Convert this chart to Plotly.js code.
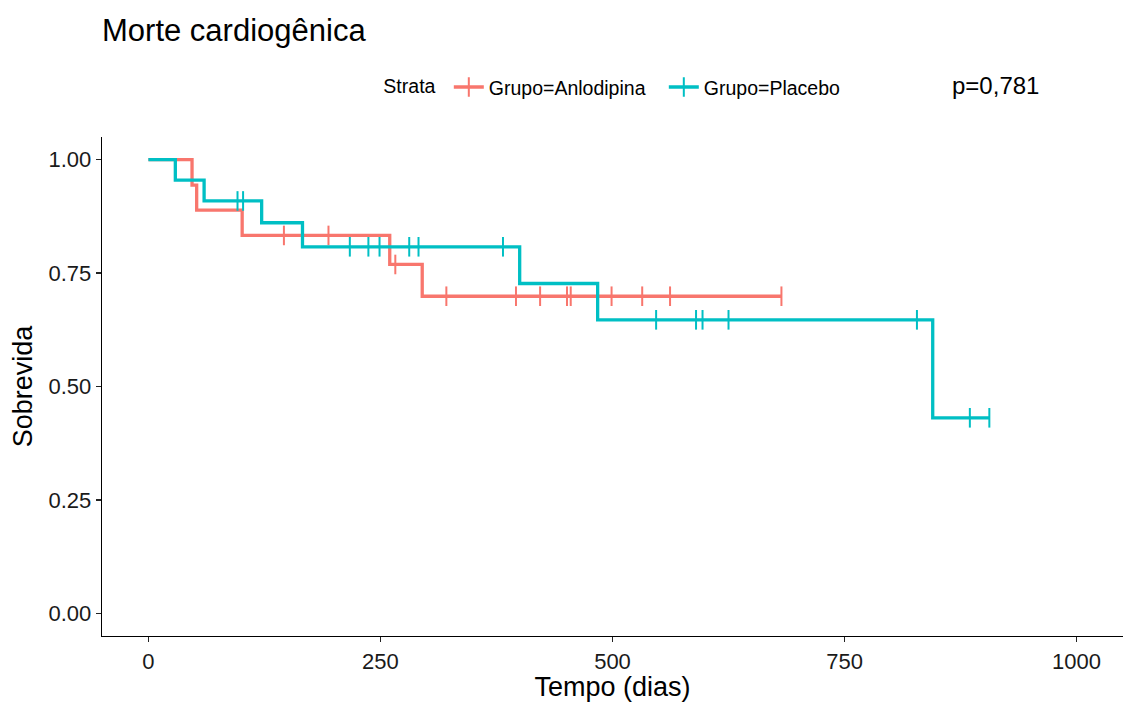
<!DOCTYPE html>
<html>
<head>
<meta charset="utf-8">
<script src="https://cdn.plot.ly/plotly-3.0.1.min.js"></script>
<style>
html,body{margin:0;padding:0;background:#fff;}
#chart{width:1123px;height:702px;}
</style>
</head>
<body>
<div id="chart"></div>
<script>
// Kaplan-Meier step data (time in days, survival probability)
var anlTime   = [0, 47, 52, 101, 260, 295, 682];
var anlSurv   = [1.000, 0.944, 0.889, 0.833, 0.769, 0.699, 0.699];
var anlCensor = [146, 194, 266, 321, 396, 422, 451, 455, 499, 532, 562, 682];

var plaTime   = [0, 29, 60, 122, 166, 400, 484, 845, 906];
var plaSurv   = [1.000, 0.955, 0.909, 0.861, 0.808, 0.727, 0.647, 0.431, 0.431];
var plaCensor = [96, 102, 217, 237, 249, 281, 291, 382, 547, 590, 597, 625, 828, 885, 906];

var groupNames = ["Grupo=Anlodipina", "Grupo=Placebo"];
var colors = ["#F8766D", "#00BFC4"];
var xTicks = [0, 250, 500, 750, 1000];
var yTicks = [0, 0.25, 0.5, 0.75, 1];
var pLabel = "p=0,781";

function survAt(times, surv, t){
  var s = surv[0];
  for (var i = 0; i < times.length; i++){ if (times[i] <= t) s = surv[i]; }
  return s;
}

var FONT = "Liberation Sans, Arial, sans-serif";
var groups = [
  {t: anlTime, s: anlSurv, c: anlCensor},
  {t: plaTime, s: plaSurv, c: plaCensor}
];
var traces = [];
groups.forEach(function(g, k){
  traces.push({
    x: g.t, y: g.s, type: 'scatter', mode: 'lines',
    line: {color: colors[k], width: 3.3, shape: 'hv'},
    showlegend: false, hoverinfo: 'skip'
  });
  traces.push({
    x: g.c, y: g.c.map(function(t){ return survAt(g.t, g.s, t); }),
    type: 'scatter', mode: 'markers',
    marker: {symbol: 'line-ns-open', size: 14, color: colors[k], line: {color: colors[k], width: 2}},
    showlegend: false, hoverinfo: 'skip'
  });
});
// legend entries
groups.forEach(function(g, k){
  traces.push({
    x: [null], y: [null], type: 'scatter', mode: 'lines+markers', name: groupNames[k],
    line: {color: colors[k], width: 3.3},
    marker: {symbol: 'line-ns-open', size: 14, color: colors[k], line: {color: colors[k], width: 2}}
  });
});

var L = 101.5, PW = 1123 - L;
function px2paper(x){ return (x - L) / PW; }

var layout = {
  width: 1123, height: 702,
  paper_bgcolor: '#fff', plot_bgcolor: '#fff',
  margin: {l: L, r: 0, t: 137, b: 66, pad: 0},
  font: {family: FONT, color: '#000'},
  title: {text: 'Morte cardiogênica', x: 102/1123, xanchor: 'left', xref: 'container',
          y: 1 - 30/702, yanchor: 'middle', yref: 'container',
          font: {family: FONT, size: 31, color: '#000'}},
  xaxis: {
    range: [-50, 1050], tickvals: xTicks, ticktext: xTicks.map(String),
    showgrid: false, zeroline: false, showline: true, linecolor: '#000', linewidth: 1.3,
    ticks: 'outside', ticklen: 5, tickwidth: 1.3, tickcolor: '#222',
    tickfont: {family: FONT, size: 22, color: '#1a1a1a'},
    title: {text: 'Tempo (dias)', font: {family: FONT, size: 27, color: '#000'}, standoff: 5}
  },
  yaxis: {
    range: [-0.05, 1.05], tickvals: yTicks, tickformat: '.2f',
    showgrid: false, zeroline: false, showline: true, linecolor: '#000', linewidth: 1.3,
    ticks: 'outside', ticklen: 5, tickwidth: 1.3, tickcolor: '#222',
    tickfont: {family: FONT, size: 22, color: '#1a1a1a'},
    title: {text: 'Sobrevida', font: {family: FONT, size: 27, color: '#000'}, standoff: 8}
  },
  showlegend: true,
  legend: {
    orientation: 'h', x: px2paper(381), xanchor: 'left', y: (635.7-87)/499, yanchor: 'middle',
    title: {text: 'Strata\u00a0', font: {family: FONT, size: 19.5, color: '#000'}},
    font: {family: FONT, size: 19.5, color: '#000'},
    itemwidth: 30, tracegroupgap: 0, bgcolor: 'rgba(0,0,0,0)',
    entrywidth: 170, entrywidthmode: 'pixels'
  },
  annotations: [{
    text: pLabel, xref: 'paper', yref: 'paper', x: px2paper(950), y: (635.7-85)/499,
    xanchor: 'left', yanchor: 'middle', showarrow: false,
    font: {family: FONT, size: 24, color: '#000'}
  }]
};

Plotly.newPlot('chart', traces, layout, {displayModeBar: false, staticPlot: true});
</script>
</body>
</html>
